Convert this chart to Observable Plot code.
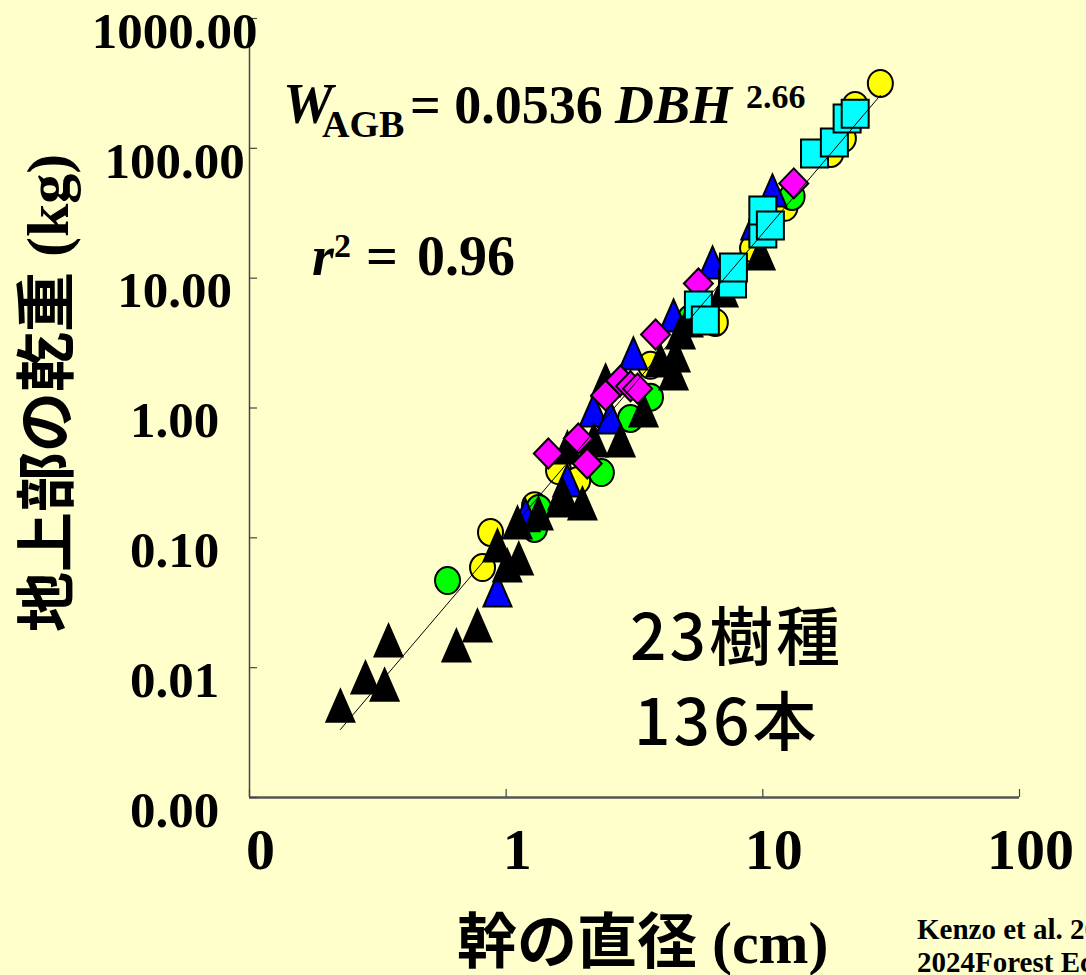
<!DOCTYPE html>
<html>
<head>
<meta charset="utf-8">
<script src="https://cdn.jsdelivr.net/npm/d3@7"></script>
<script src="https://cdn.jsdelivr.net/npm/@observablehq/plot@0.6"></script>
<style>
  html, body { margin: 0; padding: 0; background: #FFFFCC; }
  #chart svg { display: block; }
</style>
</head>
<body>
<div id="chart"></div>
<script>
// ---- data (DBH in cm, above-ground dry weight in kg) ----
const yellowDBH = [0.809, 0.869, 1.29, 1.60, 1.90, 3.65, 6.53, 9.12, 12.2, 18.4, 20.6, 22.9, 28.7];
const yellowAGB = [0.059, 0.110, 0.177, 0.330, 0.276, 2.13, 4.56, 16.9, 35.1, 91.3, 119, 214, 316];

const greenDBH = [0.591, 1.29, 1.34, 2.35, 3.05, 3.65, 5.22, 13.0];
const greenAGB = [0.0469, 0.118, 0.168, 0.318, 0.830, 1.21, 4.89, 42.6];

const blueDBH = [0.925, 1.19, 1.73, 2.19, 2.55, 3.13, 4.49, 6.37, 9.35, 10.9];
const blueAGB = [0.0393, 0.149, 0.276, 0.957, 0.845, 2.63, 5.16, 13.2, 26.4, 47.4];

const blackDBH = [0.226, 0.283, 0.336, 0.348, 0.640, 0.773, 0.925, 1.01, 1.12, 1.107, 1.336, 1.63, 1.656, 1.982, 1.733, 2.19, 2.79, 3.43, 2.44, 4.78, 4.49, 4.57, 3.99, 5.13, 7.03, 9.80];
const blackAGB = [0.0051, 0.0084, 0.0074, 0.0162, 0.0148, 0.0211, 0.0872, 0.0612, 0.0692, 0.131, 0.154, 0.194, 0.219, 0.184, 0.496, 0.562, 0.562, 0.957, 1.63, 3.82, 1.84, 2.54, 2.32, 4.72, 8.04, 15.5];

const magentaDBH = [1.46, 1.91, 2.07, 2.44, 2.79, 3.05, 3.25, 3.82, 5.61, 13.2];
const magentaAGB = [0.446, 0.582, 0.374, 1.25, 1.63, 1.47, 1.41, 3.68, 9.10, 53.7];

const cyanDBH = [5.61, 5.97, 7.62, 7.68, 10.0, 10.0, 10.7, 15.9, 19.0, 21.3, 22.9];
const cyanAGB = [6.16, 4.72, 9.10, 12.1, 22.1, 33.2, 25.4, 91.3, 111, 170, 185];

// fitted line as drawn (end points)
const fitDBH = [0.226, 28.7];
const fitAGB = [0.00334, 256];

const xTicks = [0.1, 1, 10, 100];
const xTickLabels = ["0", "1", "10", "100"];
const yTicks = [0.001, 0.01, 0.1, 1, 10, 100, 1000];
const yTickLabels = ["0.00", "0.01", "0.10", "1.00", "10.00", "100.00", "1000.00"];

// ---- marker shapes ----
const K = 0.5523;
const ellipseSym = { draw(ctx) {
  const rx = 12.5, ry = 13.5;
  ctx.moveTo(rx, 0);
  ctx.bezierCurveTo(rx, ry * K, rx * K, ry, 0, ry);
  ctx.bezierCurveTo(-rx * K, ry, -rx, ry * K, -rx, 0);
  ctx.bezierCurveTo(-rx, -ry * K, -rx * K, -ry, 0, -ry);
  ctx.bezierCurveTo(rx * K, -ry, rx, -ry * K, rx, 0);
  ctx.closePath();
}};
const triSym = { draw(ctx) {
  ctx.moveTo(0, -16); ctx.lineTo(14, 16); ctx.lineTo(-14, 16); ctx.closePath();
}};
const diamondSym = { draw(ctx) {
  ctx.moveTo(0, -15); ctx.lineTo(14.5, 0); ctx.lineTo(0, 15); ctx.lineTo(-14.5, 0); ctx.closePath();
}};
const squareSym = { draw(ctx) {
  ctx.moveTo(-13.5, -14); ctx.lineTo(13.5, -14); ctx.lineTo(13.5, 14); ctx.lineTo(-13.5, 14); ctx.closePath();
}};

const rows = (d, w) => d.map((v, i) => ({dbh: v, agb: w[i]}));
const dotOpts = (fill, symbol) => ({x: "dbh", y: "agb", fill, stroke: "black", strokeWidth: 2, symbol, r: 13});

const chart = Plot.plot({
  width: 1086,
  height: 975,
  marginLeft: 249,
  marginRight: 67,
  marginTop: 18,
  marginBottom: 178,
  style: {background: "#FFFFCC", fontFamily: "'Liberation Serif', serif", color: "black", overflow: "hidden"},
  x: {type: "log", domain: [0.1, 100]},
  y: {type: "log", domain: [0.001, 1000]},
  marks: [
    Plot.dot(rows(yellowDBH, yellowAGB), dotOpts("#FFFF00", ellipseSym)),
    Plot.dot(rows(greenDBH, greenAGB), dotOpts("#00FF00", ellipseSym)),
    Plot.dot(rows(blueDBH, blueAGB), dotOpts("#0000FF", triSym)),
    Plot.dot(rows(blackDBH, blackAGB), dotOpts("black", triSym)),
    Plot.dot(rows(magentaDBH, magentaAGB), dotOpts("#FF00FF", diamondSym)),
    Plot.dot(rows(cyanDBH, cyanAGB), dotOpts("#00FFFF", squareSym)),
    Plot.line(rows(fitDBH, fitAGB), {x: "dbh", y: "agb", stroke: "black", strokeWidth: 1}),
    // axis lines
    Plot.ruleX([0.1], {stroke: "#444", strokeWidth: 1.5}),
    Plot.ruleY([0.001], {stroke: "#555", strokeWidth: 2.5}),
    // inward ticks
    Plot.axisY(yTicks, {tickSize: -8, fill: "none", stroke: "#444", strokeWidth: 1.2, label: null}),
    Plot.axisX(xTicks, {tickSize: -8, fill: "none", stroke: "#444", strokeWidth: 1.2, label: null}),
    // tick labels
    Plot.axisY(yTicks, {tickSize: 0, tickPadding: 75, textAnchor: "middle", fontSize: 51, fontWeight: "bold",
      dy: 13, fill: "black", label: null, tickFormat: (d) => yTickLabels[yTicks.indexOf(d)]}),
    Plot.axisX(xTicks, {tickSize: 0, tickPadding: 30, fontSize: 58, fontWeight: "bold", dx: 11,
      fill: "black", label: null, tickFormat: (d) => xTickLabels[xTicks.indexOf(d)]})
  ]
});

document.getElementById("chart").appendChild(chart);

// ---- annotations ----
const svg = d3.select(chart);
const serif = "'Liberation Serif', 'Times New Roman', serif";
const gothic = "'Noto Sans CJK JP', sans-serif";
const addText = () => svg.append("text").attr("text-anchor", "start").attr("fill", "black");

const eq = addText().attr("font-family", serif).attr("font-weight", "bold");
eq.append("tspan").attr("x", 283).attr("y", 123).attr("font-size", 56).attr("font-style", "italic").text("W");
eq.append("tspan").attr("x", 322).attr("y", 137).attr("font-size", 38).text("AGB");
eq.append("tspan").attr("x", 410).attr("y", 123).attr("font-size", 54).text("= 0.0536");
eq.append("tspan").attr("x", 615).attr("y", 123).attr("font-size", 54).attr("font-style", "italic").text("DBH");
eq.append("tspan").attr("x", 746).attr("y", 108).attr("font-size", 34).text("2.66");

const r2 = addText().attr("font-family", serif).attr("font-weight", "bold");
r2.append("tspan").attr("x", 312).attr("y", 275).attr("font-size", 56).attr("font-style", "italic").text("r");
r2.append("tspan").attr("x", 334).attr("y", 257).attr("font-size", 34).text("2");
r2.append("tspan").attr("x", 366).attr("y", 275).attr("font-size", 56).text("=");
r2.append("tspan").attr("x", 417).attr("y", 275).attr("font-size", 56).text("0.96");

const yt = addText().attr("transform", "translate(68,632) rotate(-90)")
  .attr("font-size", 60).attr("font-weight", "bold");
yt.append("tspan").attr("font-family", gothic).text("地上部の乾重");
yt.append("tspan").attr("font-family", serif).text(" (kg)");

const xt = addText().attr("x", 457).attr("y", 963).attr("font-size", 60).attr("font-weight", "bold");
xt.append("tspan").attr("font-family", gothic).text("幹の直径");
xt.append("tspan").attr("font-family", serif).text(" (cm)");

addText().attr("x", 630).attr("y", 660).attr("font-family", gothic).attr("font-weight", 500)
  .attr("font-size", 64).attr("letter-spacing", 3).text("23樹種");
addText().attr("x", 634).attr("y", 745).attr("font-family", gothic).attr("font-weight", 500)
  .attr("font-size", 64).attr("letter-spacing", 3).text("136本");

addText().attr("x", 917).attr("y", 939).attr("font-family", serif).attr("font-weight", "bold")
  .attr("font-size", 29).text("Kenzo et al. 2024");
addText().attr("x", 917).attr("y", 972).attr("font-family", serif).attr("font-weight", "bold")
  .attr("font-size", 29).text("2024Forest Ecology and Management");
</script>
</body>
</html>
